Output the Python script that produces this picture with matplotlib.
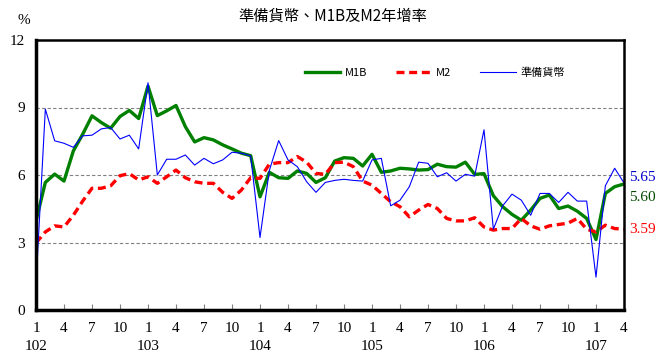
import matplotlib.pyplot as plt
import numpy as np

plt.rcParams['font.family'] = ['Liberation Serif', 'Noto Sans CJK TC', 'DejaVu Sans']

# monthly data 102/1 .. 107/4
years = [102, 103, 104, 105, 106, 107]
m1b = [3.96, 5.67, 6.04, 5.73, 7.07, 7.81, 8.63, 8.33, 8.08, 8.60, 8.87, 8.51,
       9.95, 8.64, 8.85, 9.09, 8.15, 7.47, 7.66, 7.56, 7.34, 7.16, 6.97, 6.86,
       5.03, 6.12, 5.88, 5.85, 6.18, 6.07, 5.67, 5.88, 6.62, 6.77, 6.74, 6.40,
       6.92, 6.12, 6.18, 6.30, 6.27, 6.22, 6.24, 6.48, 6.37, 6.35, 6.57, 6.03,
       6.06, 5.08, 4.59, 4.25, 3.99, 4.44, 4.96, 5.11, 4.51, 4.62, 4.39, 4.07,
       3.13, 5.18, 5.48, 5.60]
m2 = [2.98, 3.47, 3.74, 3.69, 4.21, 4.84, 5.41, 5.41, 5.52, 5.97, 6.06, 5.78,
      5.92, 5.63, 5.92, 6.22, 5.88, 5.70, 5.63, 5.63, 5.23, 4.96, 5.33, 5.88,
      5.85, 6.48, 6.55, 6.55, 6.82, 6.57, 6.07, 6.03, 6.55, 6.57, 6.37, 5.73,
      5.55, 5.18, 4.81, 4.59, 4.14, 4.44, 4.69, 4.51, 4.07, 3.96, 3.96, 4.10,
      3.69, 3.55, 3.62, 3.62, 4.07, 3.74, 3.59, 3.74, 3.80, 3.86, 4.07, 3.59,
      3.47, 3.77, 3.62, 3.59]
reserve = [1.17, 8.93, 7.52, 7.41, 7.23, 7.74, 7.77, 8.05, 8.11, 7.60, 7.77, 7.16,
           10.10, 6.00, 6.70, 6.70, 6.89, 6.44, 6.74, 6.50, 6.67, 7.01, 6.97, 6.85,
           3.22, 6.20, 7.53, 6.67, 6.37, 5.70, 5.23, 5.67, 5.76, 5.81, 5.76, 5.73,
           6.67, 6.74, 4.63, 4.88, 5.48, 6.57, 6.52, 5.92, 6.10, 5.73, 6.03, 5.95,
           8.01, 3.59, 4.63, 5.15, 4.88, 4.21, 5.18, 5.18, 4.78, 5.23, 4.84, 4.84,
           1.46, 5.52, 6.30, 5.65]

x = np.arange(len(m1b))

fig = plt.figure(figsize=(6.61, 3.54), dpi=100)
ax = fig.add_axes([36/661, 44/354, 588/661, 270/354])

ax.plot(x, m1b, color='#008000', lw=2.4, label='M1B', solid_joinstyle='round')
ax.plot(x, m2, color='#ff0000', lw=2.4, ls=(0, (2.4, 1.4)), label='M2')
ax.plot(x, reserve, color='#0000ff', lw=0.8, label='準備貨幣')

ax.set_xlim(0, len(m1b) - 1)
ax.set_ylim(0, 12)

for v in [3, 6, 9]:
    ax.axhline(v, color='#808080', lw=0.8, ls=(0, (3, 2)), zorder=0)

ticks = [i for i in x if i % 3 == 0]
labels = []
for i in ticks:
    m = i % 12 + 1
    if m == 1:
        labels.append('%d\n%d' % (m, years[i // 12]))
    else:
        labels.append(str(m))
ax.set_xticks(ticks)
ax.set_xticklabels(labels, fontsize=11, linespacing=1.4, va='top')
ax.tick_params(axis='x', direction='in', length=4, color='#808080', pad=9)

ax.set_yticks([0, 3, 6, 9, 12])
ax.set_yticklabels(['0', '3', '6', '9', '12'], fontsize=11)
ax.tick_params(axis='y', length=0, pad=8)

for side in ['left', 'bottom']:
    ax.spines[side].set_linewidth(2.5)
for side in ['top', 'right']:
    ax.spines[side].set_linewidth(1.8)

fig.text(18/661, 1 - 20/354, '%', fontsize=11, ha='left', va='center')
fig.text(333/661, 1 - 16/354, '準備貨幣、M1B及M2年增率', fontsize=11,
         ha='center', va='center', family=['Noto Sans CJK TC'])

# end labels
ax.annotate('5.65', (x[-1], reserve[-1]), xytext=(4, 4), textcoords='offset points',
            color='#0000cc', fontsize=11, va='center')
ax.annotate('5.60', (x[-1], m1b[-1]), xytext=(4, -10), textcoords='offset points',
            color='#004d00', fontsize=11, va='center')
ax.annotate('3.59', (x[-1], m2[-1]), xytext=(4, 0), textcoords='offset points',
            color='#ff0000', fontsize=11, va='center')

leg = ax.legend(loc='upper left', bbox_to_anchor=(0.44, 0.935), ncol=3, frameon=False,
                handlelength=3.2, columnspacing=2.6, handletextpad=0.4,
                prop={'family': ['Noto Sans CJK TC'], 'size': 8})

fig.savefig('out.png', dpi=100)
